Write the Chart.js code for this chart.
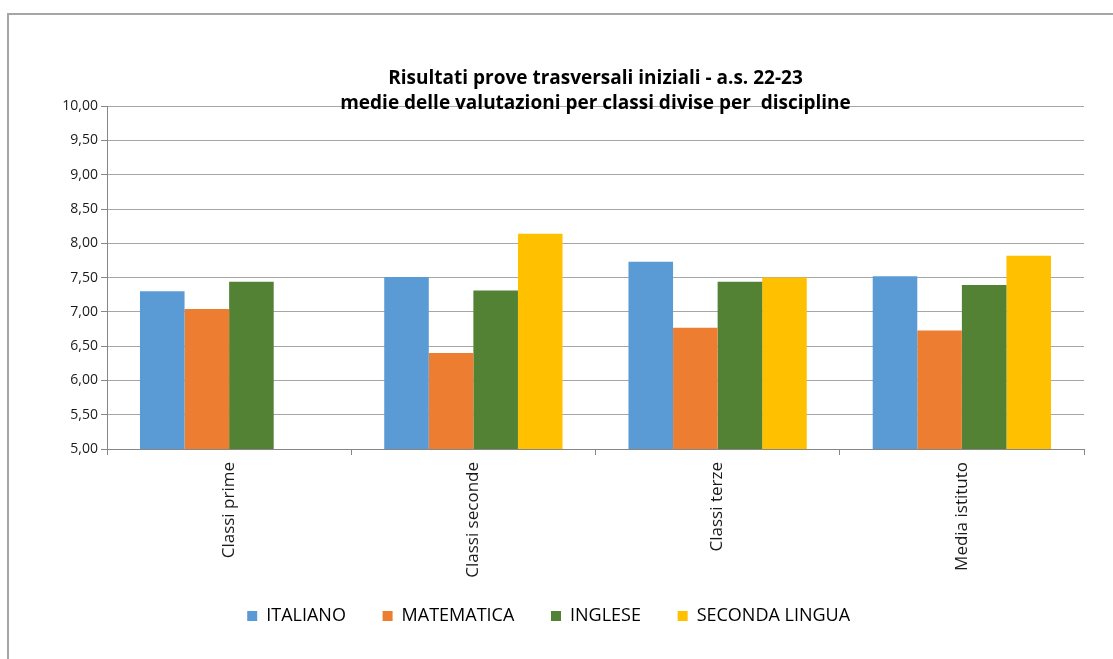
<!DOCTYPE html>
<html>
<head>
<meta charset="utf-8">
<script src="https://cdn.jsdelivr.net/npm/chart.js@4.4.0/dist/chart.umd.min.js"></script>
<style>
  html, body { margin: 0; padding: 0; background: #fff; overflow: hidden; }
  #cornice {
    position: absolute; left: 7px; top: 13px; width: 1200px; height: 700px;
    border: 2px solid #a6a6a6; box-sizing: border-box;
  }
  #contenitore { position: absolute; left: 0; top: 0; width: 1098px; height: 659px; }
</style>
</head>
<body>
<div id="cornice"></div>
<div id="contenitore"><canvas id="graficoProve"></canvas></div>
<script>
const classi = ["Classi prime", "Classi seconde", "Classi terze", "Media istituto"];
const italiano = [7.30, 7.51, 7.73, 7.52];
const matematica = [7.04, 6.40, 6.77, 6.73];
const inglese = [7.44, 7.31, 7.44, 7.39];
const secondaLingua = [null, 8.14, 7.50, 7.82];
const titolo = [
  "Risultati prove trasversali iniziali - a.s. 22-23",
  "medie delle valutazioni per classi divise per  discipline"
];

const serie = [
  { label: "ITALIANO", data: italiano, colore: "#5b9bd5" },
  { label: "MATEMATICA", data: matematica, colore: "#ed7d31" },
  { label: "INGLESE", data: inglese, colore: "#548235" },
  { label: "SECONDA LINGUA", data: secondaLingua, colore: "#ffc000" }
];

const ctx = document.getElementById("graficoProve").getContext("2d");
new Chart(ctx, {
  type: "bar",
  data: {
    labels: classi,
    datasets: serie.map(s => ({
      label: s.label,
      data: s.data,
      backgroundColor: s.colore,
      borderWidth: 0,
      barPercentage: 1,
      categoryPercentage: 0.73
    }))
  },
  options: {
    responsive: true,
    maintainAspectRatio: false,
    animation: false,
    layout: { padding: { top: 66, left: 32, right: 14, bottom: 24 } },
    plugins: {
      tooltip: { enabled: false },
      title: {
        display: true,
        text: titolo,
        fullSize: false,
        color: "#000",
        font: { family: "'Open Sans'", size: 19, weight: "bold", lineHeight: 1.32 },
        padding: { top: 0, bottom: -10 }
      },
      legend: {
        position: "bottom",
        labels: {
          boxWidth: 10,
          boxHeight: 10,
          padding: 18,
          color: "#000",
          font: { family: "'Open Sans'", size: 18 },
          // spazio extra tra le voci come nella legenda di Excel
          generateLabels: chart =>
            Chart.defaults.plugins.legend.labels.generateLabels(chart)
              .map(l => ({ ...l, text: l.text + "    " }))
        }
      }
    },
    scales: {
      y: {
        min: 5,
        max: 10,
        afterFit: s => { s.width = 75; },
        ticks: {
          stepSize: 0.5,
          color: "#1a1a1a",
          padding: 3,
          font: { family: "'Open Sans'", size: 14 },
          callback: v => v.toFixed(2).replace(".", ",")
        },
        grid: { color: "#a6a6a6", lineWidth: 1, tickLength: 6, tickColor: "#868686" },
        border: { color: "#868686" }
      },
      x: {
        afterFit: s => { s.height = 140; },
        ticks: {
          minRotation: 90,
          maxRotation: 90,
          color: "#1a1a1a",
          padding: 7,
          font: { family: "'Open Sans'", size: 17 }
        },
        grid: { offset: true, drawOnChartArea: false, tickLength: 6, color: "#868686" },
        border: { color: "#868686" }
      }
    }
  }
});
</script>
</body>
</html>
